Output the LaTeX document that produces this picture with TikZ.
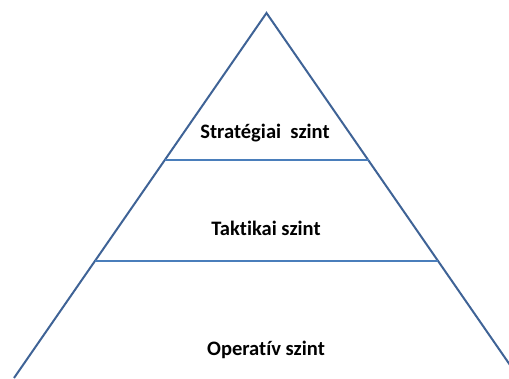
\documentclass[tikz,border=0pt]{standalone}
\usepackage{fontspec}
\setmainfont[Ligatures = NoCommon]{Carlito}
\definecolor{sideblue}{HTML}{3F6396}
\definecolor{levelblue}{HTML}{4A7EBB}
\tikzset{
  side/.style = {draw = sideblue, line width = 1.5pt},
  level/.style = {draw = levelblue, line width = 1.5pt},
  levellabel/.style = {font = \fontsize{15.4}{18}\selectfont\bfseries, inner sep = 0pt}
}
\begin{document}
\begin{tikzpicture}[x = 0.75pt, y = -0.75pt]
            \useasboundingbox (0, 0) rectangle (509, 378);
            \clip (0, 0) rectangle (509, 378);

            % Corners of the pyramid
            \coordinate (Top) at (266.5, 13);
            \coordinate (BaseLeft) at (14, 378);
            \coordinate (BaseRight) at (519, 378);
            \coordinate (StratLeft) at (165, 160);
            \coordinate (StratRight) at (369, 160);
            \coordinate (TaktLeft) at (95, 261);
            \coordinate (TaktRight) at (438, 261);

            % Sides
            \draw [side] (BaseLeft) -- (Top) -- (BaseRight);

            % Level borders
            \draw [level] (StratLeft) -- (StratRight);
            \draw [level] (TaktLeft) -- (TaktRight);

            % Level names
            \node [levellabel] (Strat) at (265, 133) {Stratégiai\ \ szint};
            \node [levellabel] (Takt) at (266, 228) {Taktikai szint};
            \node [levellabel] (Oper) at (266, 350) {Operatív szint};

\end{tikzpicture}
\end{document}
